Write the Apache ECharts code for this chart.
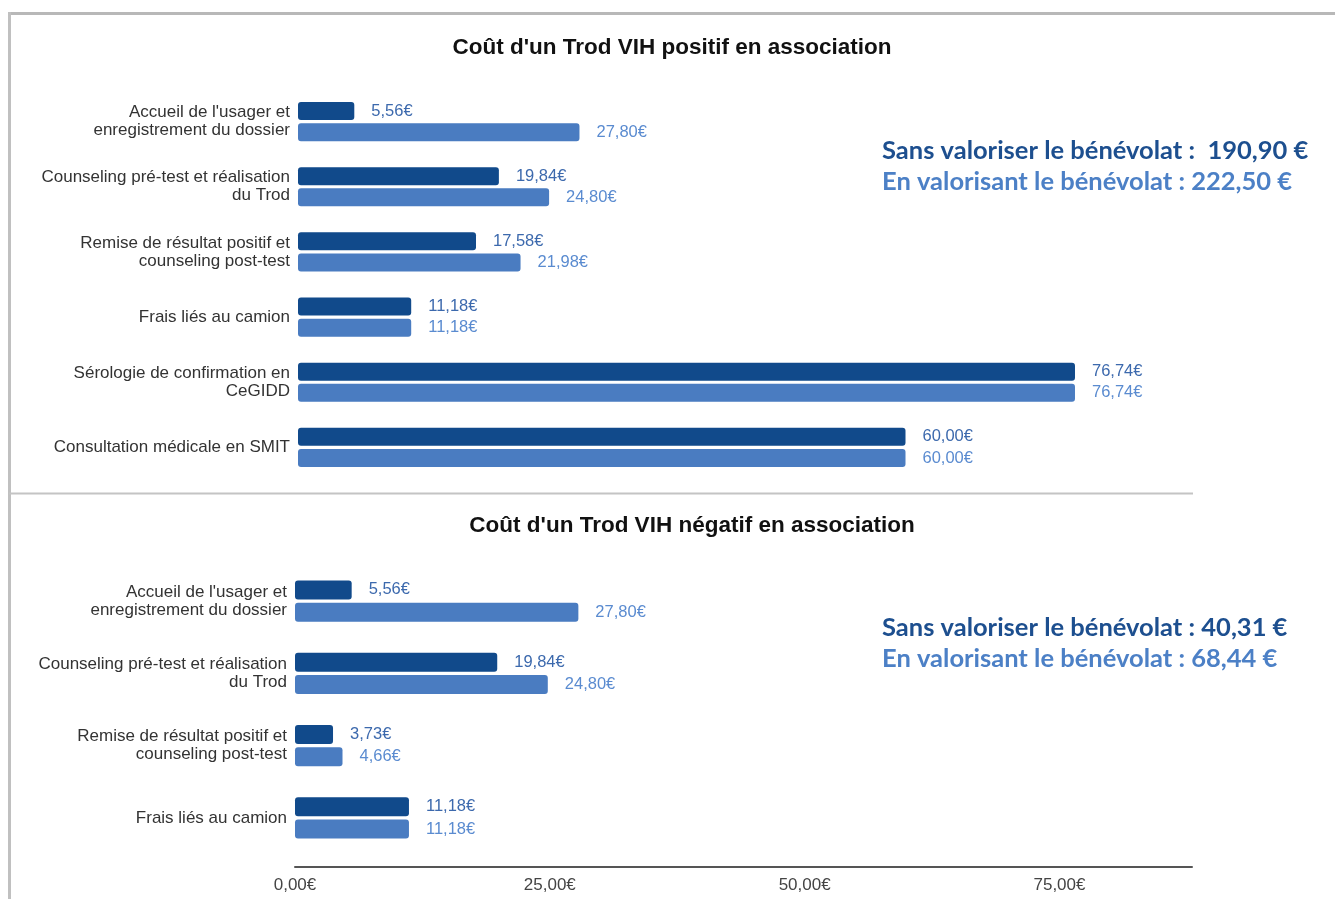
<!DOCTYPE html>
<html>
<head>
<meta charset="utf-8">
<script src="https://cdn.jsdelivr.net/npm/echarts@6/dist/echarts.min.js"></script>
<style>
html,body{margin:0;padding:0;background:#fff;}
#main{width:1335px;height:899px;}
</style>
</head>
<body>
<div id="main"></div>
<script>
// ---- Data ----
const titlePos = "Coût d'un Trod VIH positif en association";
const titleNeg = "Coût d'un Trod VIH négatif en association";
const catsPos = [
  "Accueil de l'usager et\nenregistrement du dossier",
  "Counseling pré-test et réalisation\ndu Trod",
  "Remise de résultat positif et\ncounseling post-test",
  "Frais liés au camion",
  "Sérologie de confirmation en\nCeGIDD",
  "Consultation médicale en SMIT"
];
const sansPos = [5.56, 19.84, 17.58, 11.18, 76.74, 60.00];
const avecPos = [27.80, 24.80, 21.98, 11.18, 76.74, 60.00];
const catsNeg = [
  "Accueil de l'usager et\nenregistrement du dossier",
  "Counseling pré-test et réalisation\ndu Trod",
  "Remise de résultat positif et\ncounseling post-test",
  "Frais liés au camion"
];
const sansNeg = [5.56, 19.84, 3.73, 11.18];
const avecNeg = [27.80, 24.80, 4.66, 11.18];
const xTicks = [0, 25, 50, 75];
const xMax = 88;
const notePos = ["Sans valoriser le bénévolat :  190,90 €", "En valorisant le bénévolat : 222,50 €"];
const noteNeg = ["Sans valoriser le bénévolat : 40,31 €", "En valorisant le bénévolat : 68,44 €"];

// ---- Styles ----
const DARK = '#114a8b';
const LIGHT = '#4a7cc1';
const DARK_LBL = '#3c69ad';
const LIGHT_LBL = '#5a8bd0';
const fmt = v => v.toFixed(2).replace('.', ',') + '€';

function barSeries(data, color, lblColor, axisIdx, bw) {
  return {
    type: 'bar',
    xAxisIndex: axisIdx, yAxisIndex: axisIdx,
    data: data,
    barWidth: bw,
    barGap: '18%',
    itemStyle: { color: color, borderRadius: 3 },
    label: {
      show: true, position: 'right', distance: 17,
      formatter: p => fmt(p.value),
      color: lblColor, fontFamily: 'Liberation Sans, Arial', fontSize: 16.5
    },
    silent: true,
    animation: false
  };
}

const catLabel = {
  color: '#333', fontFamily: 'Liberation Sans, Arial', fontSize: 17, lineHeight: 18, margin: 8
};

const chart = echarts.init(document.getElementById('main'), null, { renderer: 'canvas' });
chart.setOption({
  animation: false,
  backgroundColor: '#fff',
  grid: [
    { left: 298, top: 89, width: 891, height: 391 },
    { left: 295, top: 565, width: 897, height: 289 }
  ],
  xAxis: [
    { gridIndex: 0, type: 'value', min: 0, max: xMax, interval: 25, show: false, splitLine: { show: false } },
    {
      gridIndex: 1, type: 'value', min: 0, max: xMax, interval: 25, offset: 13,
      splitLine: { show: false }, axisTick: { show: false },
      axisLine: { show: true, lineStyle: { color: '#555', width: 2 } },
      axisLabel: {
        formatter: v => xTicks.indexOf(v) >= 0 ? fmt(v) : '',
        color: '#444', fontFamily: 'Liberation Sans, Arial', fontSize: 17, margin: 10
      }
    }
  ],
  yAxis: [
    { gridIndex: 0, type: 'category', data: catsPos, inverse: true,
      axisLine: { show: false }, axisTick: { show: false }, axisLabel: catLabel },
    { gridIndex: 1, type: 'category', data: catsNeg, inverse: true,
      axisLine: { show: false }, axisTick: { show: false }, axisLabel: catLabel }
  ],
  series: [
    barSeries(sansPos, DARK, DARK_LBL, 0, 18),
    barSeries(avecPos, LIGHT, LIGHT_LBL, 0, 18),
    barSeries(sansNeg, DARK, DARK_LBL, 1, 19),
    barSeries(avecNeg, LIGHT, LIGHT_LBL, 1, 19)
  ],
  graphic: [
    { type: 'line', shape: { x1: 8, y1: 13.5, x2: 1335, y2: 13.5 }, style: { stroke: '#b8b8b8', lineWidth: 3 }, silent: true },
    { type: 'line', shape: { x1: 9.5, y1: 12, x2: 9.5, y2: 899 }, style: { stroke: '#c0c0c0', lineWidth: 3 }, silent: true },
    { type: 'line', shape: { x1: 9, y1: 493.5, x2: 1193, y2: 493.5 }, style: { stroke: '#c4c4c4', lineWidth: 2 }, silent: true },
    { type: 'text', x: 672, y: 48, style: { text: titlePos, textAlign: 'center', textVerticalAlign: 'middle',
      font: 'bold 22.5px "Liberation Sans", Arial', fill: '#111' } },
    { type: 'text', x: 692, y: 526, style: { text: titleNeg, textAlign: 'center', textVerticalAlign: 'middle',
      font: 'bold 22.5px "Liberation Sans", Arial', fill: '#111' } },
    { type: 'text', x: 882, y: 151, style: { text: notePos[0], textVerticalAlign: 'middle',
      font: 'bold 25.5px Lato', fill: '#1d4f8f' } },
    { type: 'text', x: 882, y: 182, style: { text: notePos[1], textVerticalAlign: 'middle',
      font: 'bold 25.5px Lato', fill: '#4c80c6' } },
    { type: 'text', x: 882, y: 628, style: { text: noteNeg[0], textVerticalAlign: 'middle',
      font: 'bold 25.5px Lato', fill: '#1d4f8f' } },
    { type: 'text', x: 882, y: 659, style: { text: noteNeg[1], textVerticalAlign: 'middle',
      font: 'bold 25.5px Lato', fill: '#4c80c6' } }
  ]
});
</script>
</body>
</html>
